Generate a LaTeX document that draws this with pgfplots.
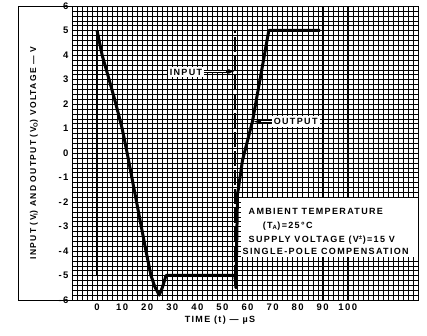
\documentclass[border=0pt]{standalone}
\usepackage{fontspec}
\setmainfont{Liberation Sans}[LetterSpace=15]
\usepackage{pgfplots}
\pgfplotsset{compat=1.18}
\usetikzlibrary{arrows.meta}
\begin{document}
\begin{tikzpicture}
\useasboundingbox (-72pt,-36pt) rectangle (355pt,300pt);
\begin{axis}[
  at={(0,0)}, anchor=south west,
  width=346pt, height=294pt, scale only axis,
  xmin=-10, xmax=128, ymin=-6, ymax=6,
  xtick={-10,0,...,120},
  xticklabels={{},0,10,20,30,40,50,60,70,80,90,100,{},{}},
  ytick={-6,-5,...,6},
  yticklabels={-6,-5,-4,-3,-2,-1,0,1,2,3,4,5,6},
  minor xtick={-10,-8,...,128},
  minor ytick={-6,-5.8,...,6.01},
  grid=both,
  major grid style={black, line width=0.65pt},
  minor grid style={black, line width=0.35pt},
  major tick length=0pt, minor tick length=0pt,
  axis line style={line width=0.9pt},
  tick label style={font=\fontsize{9.5}{10}\selectfont\bfseries},
  xlabel={TIME (t) --- µS},
  xlabel style={at={(rel axis cs:0.4275,0)}, anchor=center, yshift=-20pt, font=\fontsize{9}{10}\selectfont\bfseries},
  ylabel={INPUT (V\textsubscript{I}) AND OUTPUT (V\textsubscript{O}) VOLTAGE --- V},
  ylabel style={at={([xshift=-38pt]rel axis cs:0,0.5)}, anchor=center, font=\fontsize{8.5}{10}\selectfont\bfseries},
  clip=false,
]
% frame around label area
\draw[line width=0.9pt] ([xshift=-54pt]rel axis cs:0,0) rectangle (rel axis cs:1,1);
% annotation box
\fill[white] (axis cs:57.6,-1.85) rectangle (axis cs:128,-4.25);
% input (solid part, then dashed)
\addplot[black, line width=1.8pt] coordinates {(-10,5) (0,5) (0,-5)};
\addplot[black, line width=1.6pt, dash pattern=on 15pt off 4pt] coordinates {(0,-5) (55,-5) (55,5) (89,5)};
% output
\addplot[black, line width=3pt, line join=round] coordinates {
 (0,5) (2,4) (4.8,3) (7.5,2) (10,1) (12,0) (19.5,-4) (21.5,-5) (23,-5.45) (24.8,-5.8) (26,-5.5) (27.5,-5) (55,-5)
 (55.4,-5.5) (56,-1.7) (58,-0.3) (62,1.3) (68.5,5) (89,5)};
% labels
\node[fill=white, inner sep=2pt, anchor=east, font=\fontsize{9}{10}\selectfont\bfseries] at (axis cs:42.8,3.3) {INPUT};
\draw[double=white, double distance=1.4pt, line width=0.6pt] (axis cs:42.8,3.33) -- (axis cs:52,3.33);
\draw[-{Latex[length=6pt,width=5pt]}, line width=2.4pt] (axis cs:51.5,3.33) -- (axis cs:54.8,3.33);
\node[fill=white, inner sep=2pt, anchor=west, font=\fontsize{9}{10}\selectfont\bfseries] at (axis cs:69.6,1.28) {OUTPUT};
\draw[double=white, double distance=1.4pt, line width=0.6pt] (axis cs:69.6,1.28) -- (axis cs:65,1.28);
\draw[-{Latex[length=6pt,width=5pt]}, line width=2.4pt] (axis cs:65.5,1.28) -- (axis cs:62.4,1.28);
\begin{scope}[every node/.style={inner sep=0pt, anchor=base west, font=\fontsize{9}{10}\selectfont\bfseries}]
\node at (axis cs:60.4,-2.49) {AMBIENT TEMPERATURE};
\node at (axis cs:66,-3.1) {(T\textsubscript{A})=25°C};
\node at (axis cs:60.4,-3.67) {SUPPLY VOLTAGE (V\textsuperscript{±})=15 V};
\node at (axis cs:58,-4.16) {SINGLE-POLE COMPENSATION};
\end{scope}
\end{axis}
\end{tikzpicture}
\end{document}
